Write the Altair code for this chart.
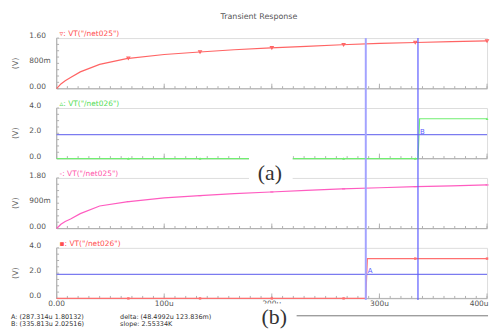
import altair as alt
import pandas as pd

TITLE = "Transient Response"
x_label_values = [0, 100, 200, 300, 400]
x_label_texts = ["0.00", "100u", "200u", "300u", "400u"]
x_minor_ticks = list(range(0, 401, 10))
x_major_ticks = [0, 100, 200, 300, 400]

# (a) VT("/net025")
t_p1 = [0, 4, 8, 13, 22, 40, 65, 100, 133, 165, 199, 232, 265, 300, 334, 367, 400]
v_p1 = [0, 0.15, 0.25, 0.35, 0.53, 0.77, 0.95, 1.08, 1.16, 1.23, 1.29, 1.34, 1.39, 1.43, 1.46, 1.49, 1.51]
# (a) VT("/net026")
t_p2 = [0, 335.9, 337.3, 400]
v_p2 = [0, 0, 3.15, 3.15]
# (b) VT("/net025")
t_p3 = [0, 4, 8, 13, 22, 40, 65, 100, 133, 165, 199, 232, 265, 300, 334, 367, 400]
v_p3 = [0, 0.15, 0.25, 0.34, 0.53, 0.80, 0.95, 1.09, 1.17, 1.24, 1.30, 1.36, 1.41, 1.45, 1.49, 1.52, 1.55]
# (b) VT("/net026")
t_p4 = [0, 287.3, 288.8, 400]
v_p4 = [0, 0, 3.15, 3.15]

marker_t = [66.7, 133.3, 200, 266.7, 333.3, 400]
marker_v_p1 = [0.96, 1.16, 1.29, 1.39, 1.46, 1.51]
marker_v_p2 = [0, 0, 0, 0, 0, 3.15]
marker_v_p3 = [0.96, 1.17, 1.30, 1.41, 1.49, 1.55]
marker_v_p4 = [0, 0, 0, 0, 3.15, 3.15]

cursor_a = 287.314
cursor_b = 335.813
hline_p2 = 1.9
hline_p4 = 1.9

readout_left = ["A: (287.314u 1.80132)", "B: (335.813u 2.02516)"]
readout_right = ["delta: (48.4992u 123.836m)", "slope: 2.55334K"]

W = 434
H = 51
GAP = 19.5
SANS = "DejaVu Sans"
SERIF = "Liberation Serif"
GRAY = "#555555"
AXIS_GRAY = "#b0b0b0"


def txt(s, x, y, size=7.5, color=GRAY, align="left", font=SANS, angle=None, baseline="middle"):
    kw = dict(font=font, fontSize=size, color=color, align=align, baseline=baseline)
    if angle is not None:
        kw["angle"] = angle
    return alt.Chart(pd.DataFrame({"s": [s]})).mark_text(**kw).encode(
        x=alt.value(x), y=alt.value(y), text="s:N")


def panel(t, v, color, legend_color, ymax, ylab_vals, ylab_txt, ystep, legend,
          mvals, mshape, mfilled, msize, cursor_top, last=False, extras=None,
          hline=None, hline_label=None, hline_cursor=None):
    xscale = alt.Scale(domain=[0, 400], nice=False, zero=False)
    yscale = alt.Scale(domain=[0, ymax], nice=False, zero=False)
    X = lambda: alt.X("t:Q", scale=xscale, axis=None)
    Y = lambda: alt.Y("v:Q", scale=yscale, axis=None)

    layers = []
    # axis lines
    layers.append(alt.Chart(pd.DataFrame({"s": ["y"]})).mark_rule(color=AXIS_GRAY, strokeWidth=1).encode(
        x=alt.value(0), y=alt.value(0), y2=alt.value(H)))
    layers.append(alt.Chart(pd.DataFrame({"s": ["x"]})).mark_rule(color=AXIS_GRAY, strokeWidth=1).encode(
        x=alt.value(0), x2=alt.value(W), y=alt.value(H)))
    # inward ticks
    layers.append(alt.Chart(pd.DataFrame({"t": x_minor_ticks})).mark_rule(color=AXIS_GRAY, strokeWidth=1).encode(
        x=X(), y=alt.value(H), y2=alt.value(H - 2.5)))
    layers.append(alt.Chart(pd.DataFrame({"t": x_major_ticks})).mark_rule(color=AXIS_GRAY, strokeWidth=1).encode(
        x=X(), y=alt.value(H), y2=alt.value(H - 5)))
    yticks = [round(i * ystep, 6) for i in range(int(round(ymax / ystep)) + 1)]
    layers.append(alt.Chart(pd.DataFrame({"v": yticks})).mark_rule(color=AXIS_GRAY, strokeWidth=1).encode(
        y=Y(), x=alt.value(0), x2=alt.value(2.5)))
    # y labels and title
    layers.append(alt.Chart(pd.DataFrame({"v": ylab_vals, "s": ylab_txt})).mark_text(
        font=SANS, fontSize=7.5, color=GRAY, align="left", baseline="middle", dy=-2
    ).encode(x=alt.value(-27.5), y=Y(), text="s:N"))
    layers.append(txt("(V)", -41, H / 2, size=8, color="#666666", align="center", angle=270))
    if last:
        layers.append(alt.Chart(pd.DataFrame({"t": x_label_values[:-1], "s": x_label_texts[:-1]})).mark_text(
            font=SANS, fontSize=7.5, color=GRAY, align="center", baseline="top"
        ).encode(x=X(), y=alt.value(H + 1.5), text="s:N"))
        layers.append(alt.Chart(pd.DataFrame({"t": x_label_values[-1:], "s": x_label_texts[-1:]})).mark_text(
            font=SANS, fontSize=7.5, color=GRAY, align="right", baseline="top", dx=1.5
        ).encode(x=X(), y=alt.value(H + 1.5), text="s:N"))

    if extras is not None and "under" in extras:
        layers += extras["under"]

    df = pd.DataFrame({"t": t, "v": v})
    layers.append(alt.Chart(df).mark_line(color=color, strokeWidth=1.2).encode(
        x=X(), y=Y(), order="t:Q"))

    layers.append(alt.Chart(pd.DataFrame({"t": marker_t, "v": mvals})).mark_point(
        shape=mshape, filled=mfilled, size=msize, color=color, opacity=1, strokeWidth=1.1
    ).encode(x=X(), y=Y()))

    if hline is not None:
        layers.append(alt.Chart(pd.DataFrame({"v": [hline]})).mark_rule(color="#7b7bf0", strokeWidth=1.2).encode(
            y=Y(), x=alt.value(0), x2=alt.value(W)))

    bottom = H + (1.5 if last else 0)
    layers.append(alt.Chart(pd.DataFrame({"t": [cursor_a]})).mark_rule(color="#a3a3ff", strokeWidth=2).encode(
        x=X(), y=alt.value(cursor_top), y2=alt.value(bottom)))
    layers.append(alt.Chart(pd.DataFrame({"t": [cursor_b]})).mark_rule(color="#5c5cff", strokeWidth=1.2).encode(
        x=X(), y=alt.value(cursor_top), y2=alt.value(bottom)))

    if hline_label is not None:
        layers.append(alt.Chart(pd.DataFrame({"t": [hline_cursor], "v": [hline], "s": [hline_label]})).mark_text(
            font=SANS, fontSize=7, color="#5c5cff", align="left", baseline="middle", dx=2, dy=-3
        ).encode(x=X(), y=Y(), text="s:N"))

    layers.append(txt(legend, 3, -4, size=7.5, color=legend_color))

    if extras is not None and "over" in extras:
        layers += extras["over"]

    return alt.layer(*layers).properties(width=W, height=H)


title_mark = txt(TITLE, 204, -21.5, size=8, color=GRAY, align="center")

box_a = alt.Chart(pd.DataFrame({"s": ["(a)"]})).mark_rect(color="white").encode(
    x=alt.value(194), x2=alt.value(238), y=alt.value(-31), y2=alt.value(10))
lab_a = txt("(a)", 215, -4.5, size=22, color="#333333", align="center", font=SERIF)

box_b = alt.Chart(pd.DataFrame({"s": ["(b)"]})).mark_rect(color="white").encode(
    x=alt.value(197), x2=alt.value(242), y=alt.value(56), y2=alt.value(77))
lab_b = txt("(b)", 219.5, 69.5, size=22, color="#333333", align="center", font=SERIF)
sep = alt.Chart(pd.DataFrame({"s": ["sep"]})).mark_rule(color="#777777", strokeWidth=1).encode(
    x=alt.value(242), x2=alt.value(435), y=alt.value(68.5))
rd = [
    txt(readout_left[0], -46, 70.2, size=6.5, color="#333333"),
    txt(readout_left[1], -46, 77, size=6.5, color="#333333"),
    txt(readout_right[0], 64, 70.2, size=6.5, color="#333333"),
    txt(readout_right[1], 64, 77, size=6.5, color="#333333"),
]

p1 = panel(t_p1, v_p1, "#ff6464", "#ff5050", 1.6, [0, 0.8, 1.6], ["0.00", "800m", "1.60"], 0.2,
           "▿: VT(\"/net025\")", marker_v_p1, "triangle-down", False, 8, 0,
           extras={"over": [title_mark]})
p2 = panel(t_p2, v_p2, "#70ee70", "#55dd55", 4.0, [0, 2, 4], ["0.0", "2.0", "4.0"], 0.5,
           "▵: VT(\"/net026\")", marker_v_p2, "triangle-up", True, 8, -GAP,
           hline=hline_p2, hline_label="B", hline_cursor=cursor_b)
p3 = panel(t_p3, v_p3, "#ff5cc0", "#ff55aa", 1.8, [0, 0.9, 1.8], ["0.00", "900m", "1.80"], 0.225,
           "-: VT(\"/net025\")", marker_v_p3, "stroke", False, 10, -GAP,
           extras={"under": [box_a], "over": [lab_a]})
p4 = panel(t_p4, v_p4, "#ff7070", "#ff5050", 4.0, [0, 2, 4], ["0.0", "2.0", "4.0"], 0.5,
           "▪: VT(\"/net026\")", marker_v_p4, "square", True, 6, -GAP, last=True,
           hline=hline_p4, hline_label="A", hline_cursor=cursor_a,
           extras={"over": [box_b, sep, lab_b] + rd})

chart = alt.vconcat(p1, p2, p3, p4, spacing=GAP, bounds="flush").resolve_scale(
    x="independent", y="independent"
).properties(
    padding={"left": 2, "top": 3, "right": 0, "bottom": 0}
).configure_view(stroke=None).configure(background="white")

chart.save("out.html", embed_options={"renderer": "svg", "actions": False})
